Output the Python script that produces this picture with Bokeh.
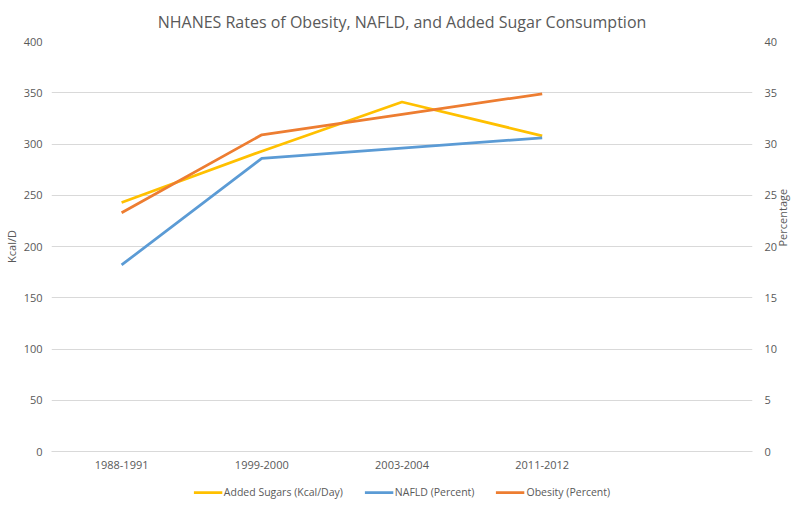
import math
from bokeh.plotting import figure
from bokeh.layouts import column
from bokeh.models import FactorRange, Range1d, LinearAxis, Legend, LegendItem, FixedTicker
from bokeh.embed import file_html
from bokeh.resources import INLINE

periods = ["1988-1991", "1999-2000", "2003-2004", "2011-2012"]
all_factors = periods + [" "]
added_sugars = [243, 293, 341, 308]
nafld = [18.2, 28.6, 29.6, 30.6]
obesity = [23.3, 30.9, 32.9, 34.9]
left_ticks = [0, 50, 100, 150, 200, 250, 300, 350, 400]
right_ticks = [0, 5, 10, 15, 20, 25, 30, 35, 40]
series_names = ["Added Sugars (Kcal/Day)", "NAFLD (Percent)", "Obesity (Percent)"]
series_colors = ["#FFC000", "#5B9BD5", "#ED7D31"]

GRAY = "#595959"
FONT = "Open Sans"
LW = 2.75

p = figure(
    x_range=FactorRange(factors=all_factors, range_padding=0),
    y_range=Range1d(0, 400),
    width=800, height=480,
    output_backend="svg", toolbar_location=None,
    title="NHANES Rates of Obesity, NAFLD, and Added Sugar Consumption",
    min_border_left=45, min_border_right=42, min_border_top=41, min_border_bottom=29,
)
p.extra_y_ranges = {"pct": Range1d(0, 40)}

p.title.align = "center"
p.title.text_font = FONT
p.title.text_font_size = "16px"
p.title.text_font_style = "normal"
p.title.text_color = GRAY
p.title.standoff = 17

p.line(x=periods, y=added_sugars, line_color=series_colors[0], line_width=LW)
p.line(x=periods, y=nafld, y_range_name="pct", line_color=series_colors[1], line_width=LW)
p.line(x=periods, y=obesity, y_range_name="pct", line_color=series_colors[2], line_width=LW)

p.outline_line_color = None
p.xgrid.grid_line_color = None
p.ygrid.grid_line_color = "#d9d9d9"
p.ygrid.ticker = FixedTicker(ticks=left_ticks)

ly = p.yaxis[0]
ly.ticker = FixedTicker(ticks=left_ticks)
ly.axis_label = "Kcal/D"

ry = LinearAxis(y_range_name="pct", ticker=FixedTicker(ticks=right_ticks), axis_label="Percentage")
ry.axis_label_orientation = math.pi / 2
p.add_layout(ry, "right")

for ax in (ly, ry):
    ax.axis_line_color = None
    ax.major_tick_line_color = None
    ax.minor_tick_line_color = None
    ax.major_tick_out = 0
    ax.major_tick_in = 0
    ax.minor_tick_out = 0
    ax.major_label_text_font = FONT
    ax.major_label_text_font_size = "11px"
    ax.major_label_text_color = GRAY
    ax.axis_label_text_font = FONT
    ax.axis_label_text_font_size = "11px"
    ax.axis_label_text_font_style = "normal"
    ax.axis_label_text_color = GRAY
    ax.axis_label_standoff = 2
ly.major_label_standoff = 9
ry.major_label_standoff = 12

xa = p.xaxis[0]
xa.axis_line_color = "#d9d9d9"
xa.major_tick_line_color = None
xa.minor_tick_line_color = None
xa.major_tick_out = 0
xa.major_tick_in = 0
xa.major_label_text_font = FONT
xa.major_label_text_font_size = "11px"
xa.major_label_text_color = GRAY
xa.major_label_standoff = 5

# legend strip below the chart (hidden copies of the series provide the swatches)
lg = figure(
    width=800, height=24,
    x_range=FactorRange(factors=all_factors, range_padding=0), y_range=Range1d(0, 400),
    output_backend="svg", toolbar_location=None, min_border=0,
)
lg.extra_y_ranges = {"pct": Range1d(0, 40)}
lg.axis.visible = False
lg.grid.visible = False
lg.outline_line_color = None
items = []
for name, col, vals, rng in zip(series_names, series_colors,
                                [added_sugars, nafld, obesity],
                                ["default", "pct", "pct"]):
    r = lg.line(x=periods, y=vals, y_range_name=rng, line_color=col, line_width=LW)
    r.visible = False
    items.append(LegendItem(label=name, renderers=[r]))
legend = Legend(items=items, orientation="horizontal", location="center")
legend.border_line_color = None
legend.background_fill_alpha = 0
legend.inactive_fill_alpha = 0
legend.label_text_font = FONT
legend.label_text_font_size = "10.5px"
legend.label_text_color = GRAY
legend.glyph_width = 29
legend.glyph_height = 14
legend.label_height = 14
legend.label_standoff = 2
legend.spacing = 21
legend.padding = 0
legend.margin = 0
lg.add_layout(legend, "center")

layout = column(p, lg, spacing=0)
open("out.html", "w").write(file_html(layout, INLINE))
